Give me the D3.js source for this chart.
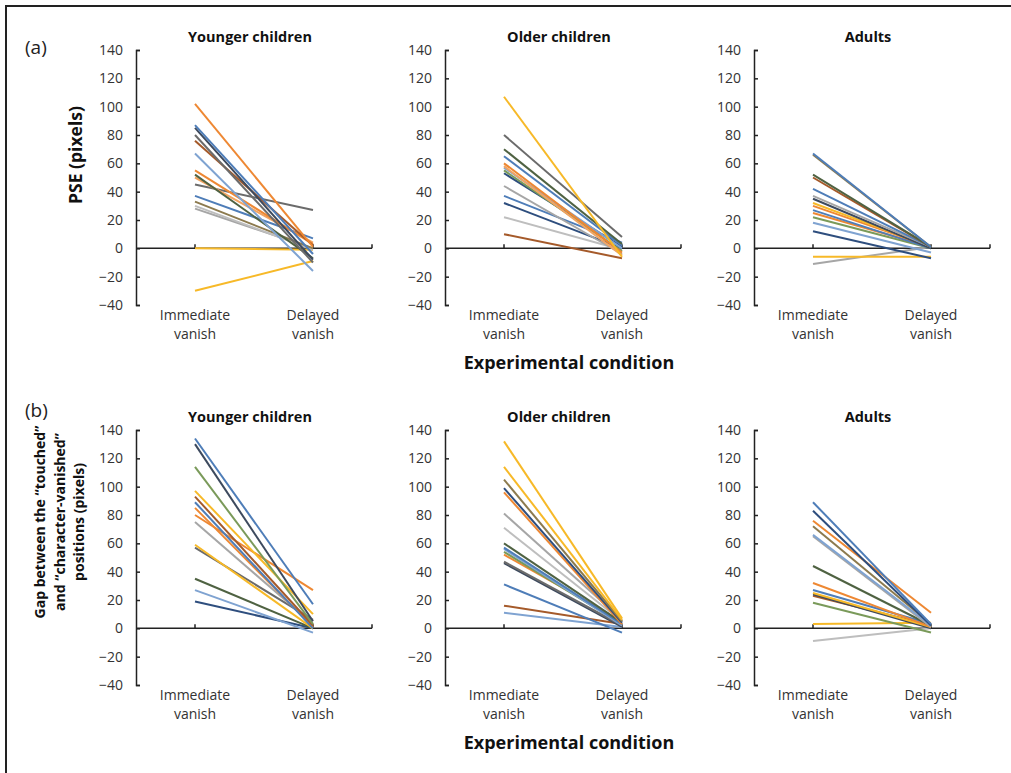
<!DOCTYPE html>
<html>
<head>
<meta charset="utf-8">
<script src="https://cdn.jsdelivr.net/npm/d3@7"></script>
<style>
  body { margin: 0; background: #fff; }
  text { font-family: "Open Sans", "Noto Sans", sans-serif; }
</style>
</head>
<body>
<svg id="chart" width="1011" height="773"></svg>
<script>
// categories and ticks
const conditions = ['Immediate vanish', 'Delayed vanish'];
const groups = ['Younger children', 'Older children', 'Adults'];
const yTicks = [-40, -20, 0, 20, 40, 60, 80, 100, 120, 140];

// (a) PSE, one entry per participant
const pseYoungImm = [102, 87, 85, 80, 76, 67, 55, 52, 50, 45, 37, 33, 30, 28, 0, -30];
const pseYoungDel = [1, -4, -8, -10, 2, -16, 3, -7, 4, 27, 7, 0, -1, 0, -1, -9];
const pseOlderImm = [107, 80, 70, 65, 60, 58, 57, 55, 53, 44, 37, 32, 22, 10];
const pseOlderDel = [-6, 8, 3, 2, -3, -5, 0, -2, 1, -4, 4, 0, -1, -7];
const pseAdultImm = [67, 66, 52, 50, 42, 37, 35, 32, 30, 27, 25, 22, 18, 12, -6, -11];
const pseAdultDel = [1, 1, 1, 1, 1, 1, 0, 1, 1, 0, 1, 0, -3, -7, -6, 1];

// (b) gap between touched and vanished positions
const gapYoungImm = [134, 130, 114, 97, 93, 89, 85, 80, 75, 59, 57, 35, 27, 19];
const gapYoungDel = [17, 5, 3, 10, 2, 0, 1, 27, 3, 0, 6, 0, -3, 0];
const gapOlderImm = [132, 114, 105, 99, 96, 81, 71, 60, 57, 56, 54, 52, 47, 46, 31, 16, 11];
const gapOlderDel = [7, 6, 5, 4, 3, 6, 5, 4, 3, 2, 3, 5, 2, 1, -3, 3, 1];
const gapAdultImm = [89, 83, 76, 72, 66, 65, 44, 32, 27, 25, 24, 23, 18, 3, -9];
const gapAdultDel = [3, 2, 11, 3, 2, 1, 2, 1, 3, 1, 0, 2, -3, 4, 0];

// line colours
const c = {
  blue: '#4e7db8', dkblue: '#2e4e7e', slate: '#3d4a5e', ltblue: '#7fa3d1',
  orange: '#ee8833', ltorange: '#f2a462', brown: '#a55a2a', gray: '#a6a6a6',
  ltgray: '#bebebe', dkgray: '#6b6b6b', yellow: '#f7b928', green: '#7a9a5a',
  dkgreen: '#4f6242', olive: '#8c7a4e'
};
const colYoungA = [c.orange, c.blue, c.slate, c.dkgray, c.brown, c.ltblue, c.orange, c.dkgreen, c.ltorange, c.dkgray, c.blue, c.olive, c.ltgray, c.gray, c.yellow, c.yellow];
const colOlderA = [c.yellow, c.dkgray, c.dkgreen, c.blue, c.orange, c.ltorange, c.ltblue, c.green, c.dkblue, c.gray, c.blue, c.dkblue, c.ltgray, c.brown];
const colAdultA = [c.blue, c.olive, c.dkgreen, c.brown, c.blue, c.gray, c.slate, c.yellow, c.orange, c.blue, c.orange, c.green, c.ltblue, c.dkblue, c.yellow, c.gray];
const colYoungB = [c.blue, c.slate, c.green, c.yellow, c.brown, c.blue, c.orange, c.orange, c.gray, c.yellow, c.dkgray, c.dkgreen, c.ltblue, c.dkblue];
const colOlderB = [c.yellow, c.yellow, c.olive, c.dkblue, c.orange, c.gray, c.ltgray, c.dkgreen, c.blue, c.ltblue, c.green, c.orange, c.dkgray, c.slate, c.blue, c.brown, c.ltblue];
const colAdultB = [c.blue, c.dkblue, c.orange, c.olive, c.ltblue, c.gray, c.dkgreen, c.orange, c.blue, c.yellow, c.slate, c.brown, c.green, c.yellow, c.ltgray];

const rows = [
  { tag: '(a)', top: 50, panels: [[pseYoungImm, pseYoungDel, colYoungA], [pseOlderImm, pseOlderDel, colOlderA], [pseAdultImm, pseAdultDel, colAdultA]] },
  { tag: '(b)', top: 430, panels: [[gapYoungImm, gapYoungDel, colYoungB], [gapOlderImm, gapOlderDel, colOlderB], [gapAdultImm, gapAdultDel, colAdultB]] }
];
const axisX = [136, 445, 754];

const svg = d3.select('#chart');
svg.append('rect').attr('width', 1011).attr('height', 773).attr('fill', '#fff');
// frame (only top and left edges are visible)
svg.append('path').attr('d', 'M6,773V6H1011').attr('fill', 'none').attr('stroke', '#222').attr('stroke-width', 2);

rows.forEach((row, ri) => {
  const y = d3.scaleLinear().domain([-40, 140]).range([row.top + 255, row.top]);
  svg.append('text').attr('x', 25).attr('y', ri ? 417 : 54)
    .attr('font-size', 19).attr('fill', '#222').text(row.tag);

  row.panels.forEach(([imm, del, cols], pi) => {
    const ax = axisX[pi];
    const g = svg.append('g');
    const x = d3.scalePoint().domain(conditions).range([ax + 59, ax + 177]);

    g.append('text').attr('x', ax + 114).attr('y', row.top - 8)
      .attr('text-anchor', 'middle').attr('font-size', 14.5).attr('font-weight', 'bold')
      .attr('fill', '#111').text(groups[pi]);

    const yAxis = g.append('g').attr('transform', `translate(${ax},0)`)
      .call(d3.axisLeft(y).tickValues(yTicks).tickSize(-4).tickSizeOuter(-4).tickPadding(13));
    yAxis.select('.domain').attr('stroke', '#222').attr('stroke-width', 1.5);
    yAxis.selectAll('.tick line').attr('stroke', '#222').attr('stroke-width', 1.5);
    yAxis.selectAll('.tick text').attr('font-size', 14).attr('fill', '#333')
      .attr('font-family', '"Open Sans", sans-serif');

    // horizontal axis through zero
    const ends = [x(conditions[0]), x(conditions[1]), ax + 236];
    g.append('line').attr('x1', ax).attr('x2', ax + 236).attr('y1', y(0)).attr('y2', y(0))
      .attr('stroke', '#222').attr('stroke-width', 1.5);
    g.selectAll('line.t').data(ends).join('line')
      .attr('x1', d => d).attr('x2', d => d).attr('y1', y(0)).attr('y2', y(0) - 4)
      .attr('stroke', '#222').attr('stroke-width', 1.5);

    // participant lines
    g.selectAll('line.p').data(d3.range(imm.length).reverse()).join('line')
      .attr('x1', x(conditions[0])).attr('x2', x(conditions[1]))
      .attr('y1', i => y(imm[i])).attr('y2', i => y(del[i]))
      .attr('stroke', i => cols[i]).attr('stroke-width', 2);

    // category labels
    conditions.forEach(cond => {
      const [w1, w2] = cond.split(' ');
      const t = g.append('text').attr('text-anchor', 'middle').attr('font-size', 14).attr('fill', '#333');
      t.append('tspan').attr('x', x(cond)).attr('y', row.top + 270).text(w1);
      t.append('tspan').attr('x', x(cond)).attr('y', row.top + 289).text(w2);
    });
  });

  svg.append('text').attr('x', 569).attr('y', row.top + 319).attr('text-anchor', 'middle')
    .attr('font-size', 18).attr('font-weight', 'bold').attr('fill', '#111')
    .text('Experimental condition');
});

// y axis titles
svg.append('text').attr('transform', 'translate(82,155) rotate(-90)').attr('text-anchor', 'middle')
  .attr('font-size', 17.5).attr('font-weight', 'bold').attr('fill', '#111').text('PSE (pixels)');
const gapTitle = ['Gap between the \u201ctouched\u201d', 'and \u201ccharacter-vanished\u201d', 'positions (pixels)'];
gapTitle.forEach((s, i) => {
  svg.append('text').attr('transform', `translate(${45 + i * 19.5},522) rotate(-90)`).attr('text-anchor', 'middle')
    .attr('font-size', 14).attr('font-weight', 'bold').attr('fill', '#111').text(s);
});
</script>
</body>
</html>
